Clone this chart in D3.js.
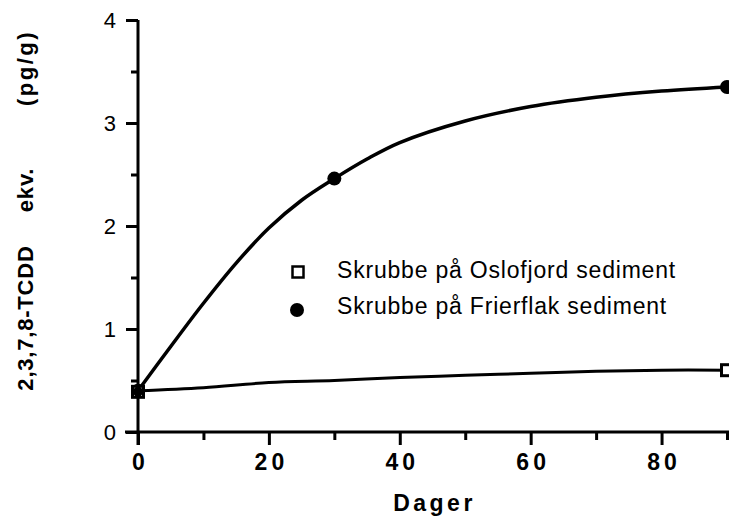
<!DOCTYPE html>
<html>
<head>
<meta charset="utf-8">
<script src="https://cdn.jsdelivr.net/npm/d3@7"></script>
<style>
  html, body { margin: 0; padding: 0; background: #fff; }
  svg { display: block; }
</style>
</head>
<body>
<script>
// ---- data ----
const seriesNames = ["Skrubbe på Oslofjord sediment", "Skrubbe på Frierflak sediment"];
const oslofjordDays = [0, 90];
const oslofjordValues = [0.39, 0.60];
const frierflakDays = [0, 30, 90];
const frierflakValues = [0.40, 2.46, 3.35];
// hand-drawn trend lines
const oslofjordLineDays = [0, 10, 20, 30, 40, 50, 60, 70, 80, 90];
const oslofjordLineValues = [0.40, 0.43, 0.48, 0.50, 0.53, 0.55, 0.57, 0.59, 0.60, 0.60];
const frierflakLineDays = [0, 5, 10, 15, 20, 25, 30, 35, 40, 50, 60, 70, 80, 90];
const frierflakLineValues = [0.40, 0.83, 1.25, 1.64, 1.98, 2.25, 2.46, 2.65, 2.81, 3.02, 3.16, 3.25, 3.31, 3.35];
const xMajorTicks = [0, 20, 40, 60, 80];
const xMinorTicks = [10, 30, 50, 70, 90];
const yMajorTicks = [0, 1, 2, 3, 4];
const yMinorTicks = [0.5, 1.5, 2.5, 3.5];
const xTitle = "Dager";
const yTitleParts = ["2,3,7,8-TCDD", "ekv.", "(pg/g)"];

const W = 729, H = 517;
const svg = d3.select("body").append("svg").attr("width", W).attr("height", H);

const x = d3.scaleLinear().domain([0, 90]).range([138, 727]);
const y = d3.scaleLinear().domain([0, 4]).range([432, 20]);
const FONT = "'Liberation Sans', Arial, Helvetica, sans-serif";

// axes lines
svg.append("line").attr("x1", x(0) - 13).attr("x2", W).attr("y1", y(0)).attr("y2", y(0))
  .attr("stroke", "#000").attr("stroke-width", 3);
svg.append("line").attr("x1", x(0)).attr("x2", x(0)).attr("y1", y(4)).attr("y2", y(0) + 13)
  .attr("stroke", "#000").attr("stroke-width", 3);

// x axis
const gx = svg.append("g").attr("transform", `translate(0,${y(0)})`);
gx.call(d3.axisBottom(x).tickValues(xMajorTicks).tickSize(13).tickPadding(9).tickFormat(d3.format("d")));
gx.append("g").call(d3.axisBottom(x).tickValues(xMinorTicks).tickSize(8).tickFormat(""));
gx.selectAll(".domain").remove();
gx.selectAll(".tick line").attr("stroke", "#000").attr("stroke-width", 3);
gx.selectAll(".tick text").attr("font-family", FONT).attr("font-size", 23).attr("font-weight", "bold")
  .attr("letter-spacing", 4).attr("dx", 2).attr("fill", "#000");

// y axis
const gy = svg.append("g").attr("transform", `translate(${x(0)},0)`);
gy.call(d3.axisLeft(y).tickValues(yMajorTicks).tickSize(12).tickPadding(10).tickFormat(d3.format("d")));
gy.append("g").call(d3.axisLeft(y).tickValues(yMinorTicks).tickSize(7).tickFormat(""));
gy.selectAll(".domain").remove();
gy.selectAll(".tick line").attr("stroke", "#000").attr("stroke-width", 3);
gy.selectAll(".tick text").attr("font-family", FONT).attr("font-size", 22).attr("fill", "#000");

// titles
svg.append("text").attr("x", x(45)).attr("y", 511).attr("text-anchor", "middle")
  .attr("font-family", FONT).attr("font-size", 23).attr("font-weight", "bold")
  .attr("letter-spacing", 3.5).attr("dx", 2).text(xTitle);

const yTitleCenters = [318, 190, 68];
yTitleParts.forEach((t, i) => {
  svg.append("text").attr("transform", `translate(33,${yTitleCenters[i]}) rotate(-90)`)
    .attr("text-anchor", "middle").attr("font-family", FONT).attr("font-size", 22)
    .attr("font-weight", "bold").attr("letter-spacing", i === 2 ? 2.5 : 0.8).text(t);
});

// lines
const line = d3.line().x(d => x(d[0])).y(d => y(d[1])).curve(d3.curveCatmullRom.alpha(0.5));
svg.append("path").datum(oslofjordLineDays.map((d, i) => [d, oslofjordLineValues[i]]))
  .attr("d", line).attr("fill", "none").attr("stroke", "#000").attr("stroke-width", 3);
svg.append("path").datum(frierflakLineDays.map((d, i) => [d, frierflakLineValues[i]]))
  .attr("d", line).attr("fill", "none").attr("stroke", "#000").attr("stroke-width", 3.5);

// markers
svg.selectAll(".fc").data(frierflakDays.map((d, i) => [d, frierflakValues[i]])).enter()
  .append("circle").attr("cx", d => x(d[0])).attr("cy", d => y(d[1])).attr("r", 7).attr("fill", "#000");
svg.selectAll(".os").data(oslofjordDays.map((d, i) => [d, oslofjordValues[i]])).enter()
  .append("rect").attr("x", d => x(d[0]) - 5.5).attr("y", d => y(d[1]) - 5.5)
  .attr("width", 11).attr("height", 11).attr("fill", "#fff").attr("stroke", "#000").attr("stroke-width", 3);
// at day 0 both markers overlap -> shown solid
svg.append("circle").attr("cx", x(0)).attr("cy", y(oslofjordValues[0])).attr("r", 5).attr("fill", "#000");

// legend
const legend = svg.append("g");
legend.append("rect").attr("x", 292.5).attr("y", 266.5).attr("width", 11).attr("height", 11)
  .attr("fill", "#fff").attr("stroke", "#000").attr("stroke-width", 2.5);
legend.append("circle").attr("cx", 297).attr("cy", 310).attr("r", 7).attr("fill", "#000");
legend.selectAll("text").data(seriesNames).enter().append("text")
  .attr("x", 337).attr("y", (d, i) => 278 + i * 36)
  .attr("font-family", FONT).attr("font-size", 23).attr("letter-spacing", 0.8)
  .attr("fill", "#000").text(d => d);
</script>
</body>
</html>
